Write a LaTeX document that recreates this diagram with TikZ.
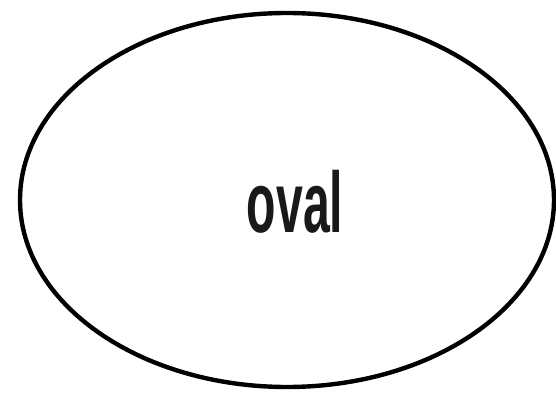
\documentclass[tikz,border=0pt]{standalone}
\usepackage{fontspec}
\setmainfont{Liberation Sans}
\usetikzlibrary{shapes.geometric}
\begin{document}
\begin{tikzpicture}[x=1pt,y=1pt,
  ovalshape/.style={draw=black, line width=4.4pt, ellipse, minimum width=534pt, minimum height=374pt, inner sep=0pt},
  ovaltext/.style={font=\bfseries\fontsize{86}{86}\selectfont, xscale=0.56, anchor=base, inner sep=0pt, text=black!90}]
\useasboundingbox (0,0) rectangle (556,394);
\node[ovalshape] (shape) at (287,194) {};
\node[ovaltext] (label) at (295,162) {oval};
\end{tikzpicture}
\end{document}
